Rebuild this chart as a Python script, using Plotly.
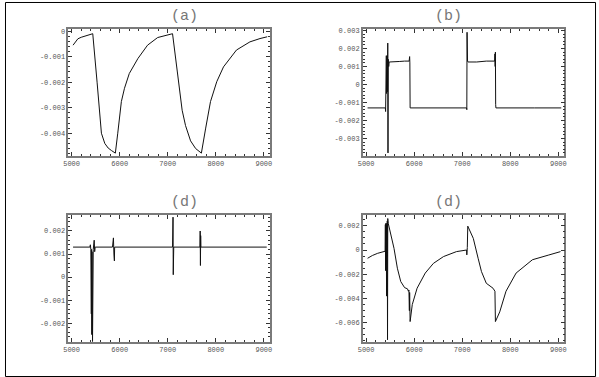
import plotly.graph_objects as go

# panel (a)
a_x = [5030, 5080, 5130, 5200, 5300, 5400, 5440, 5530, 5620, 5690, 5760, 5830, 5910,
       5960, 6035, 6100, 6200, 6380, 6580, 6790, 6990, 7100, 7200, 7300, 7370, 7475,
       7580, 7700, 7790, 7890, 8020, 8160, 8430, 8710, 8920, 9070]
a_y = [-0.00055, -0.00042, -0.0003, -0.00024, -0.00018, -0.00012, -0.0001, -0.002,
       -0.004, -0.0044, -0.00458, -0.00468, -0.00478, -0.004, -0.00276, -0.00224,
       -0.00166, -0.00107, -0.00055, -0.00025, -0.00016, -0.0001, -0.0016, -0.0031,
       -0.0037, -0.0043, -0.0046, -0.00478, -0.0038, -0.00276, -0.00198, -0.0014,
       -0.00074, -0.00042, -0.00029, -0.00022]

# panel (b)
b_x = [5030, 5400, 5405, 5410, 5415, 5420, 5425, 5430, 5435, 5440, 5445, 5450, 5455,
       5460, 5470, 5480, 5600, 5700, 5800, 5895, 5905, 5910, 5915, 5920, 6500, 7090,
       7095, 7100, 7105, 7110, 7120, 7300, 7500, 7675, 7680, 7685, 7690, 7695, 7700,
       8500, 9060]
b_y = [-0.0013, -0.0013, -0.0015, 0.0014, -0.0009, 0.0016, -0.0005, 0.0015, 0.0,
       0.0016, -0.0004, 0.0023, -0.0038, 0.0014, 0.0010, 0.00125, 0.00125, 0.00128,
       0.0013, 0.0013, 0.00155, 0.0012, -0.0013, -0.0013, -0.0013, -0.0013, -0.0014,
       0.0029, 0.0010, 0.0013, 0.00125, 0.00125, 0.0013, 0.0013, 0.0017, 0.0010,
       0.0018, -0.0011, -0.0013, -0.0013, -0.0013]

# panel (c), titled (d) in the original
c_x = [5030, 5380, 5390, 5400, 5410, 5415, 5420, 5425, 5435, 5440, 5450, 5470, 5480,
       5490, 5850, 5870, 5880, 5890, 5895, 7100, 7110, 7115, 7120, 7125, 7670, 7675,
       7680, 7685, 7690, 9060]
c_y = [0.0013, 0.0013, 0.0014, 0.0012, -0.0016, 0.0012, -0.0025, 0.0011, -0.0028,
       0.0010, 0.0012, 0.0016, 0.0011, 0.0013, 0.0013, 0.0017, 0.0010, 0.0007, 0.0013,
       0.0013, 0.0026, 0.0001, 0.0017, 0.0013, 0.0013, 0.0020, 0.0005, 0.0018, 0.0013,
       0.0013]

# panel (d)
d_x = [5030, 5130, 5240, 5375, 5395, 5400, 5405, 5410, 5415, 5420, 5425, 5430, 5435,
       5440, 5445, 5450, 5460, 5520, 5580, 5650, 5720, 5800, 5860, 5880, 5890, 5900,
       5905, 5915, 5925, 5960, 6060, 6230, 6400, 6610, 6880, 7090, 7095, 7105, 7115,
       7230, 7330, 7400, 7500, 7640, 7680, 7690, 7780, 7910, 8120, 8460, 8800, 9045]
d_y = [-0.00068, -0.00045, -0.00027, -0.0001, -0.0001, 0.0021, -0.0017, 0.0022,
       -0.0012, 0.0020, -0.0038, 0.0022, -0.0005, 0.0024, -0.0074, 0.0026, 0.0022,
       0.0012, 0.00014, -0.0015, -0.0026, -0.0031, -0.0032, -0.0034, -0.0033, -0.005,
       -0.0035, -0.0059, -0.0055, -0.0045, -0.00315, -0.0019, -0.0011, -0.00054,
       -0.00013, 0.0, -0.0004, 0.0002, 0.00197, 0.00096, -0.00068, -0.00178, -0.00274,
       -0.00315, -0.0034, -0.0059, -0.0051, -0.0034, -0.0019, -0.0008, -0.00041,
       -0.00013]

x_ticks = [5000, 6000, 7000, 8000, 9000]
a_ticks = [0, -0.001, -0.002, -0.003, -0.004]
b_ticks = [0.003, 0.002, 0.001, 0, -0.001, -0.002, -0.003]
c_ticks = [0.002, 0.001, 0, -0.001, -0.002]
d_ticks = [0.002, 0, -0.002, -0.004, -0.006]
titles = ["(a)", "(b)", "(d)", "(d)"]

W, H = 599, 377
FRAME = "#7a7a7a"
MONO = "Liberation Mono"


def lab(v):
    if v == 0:
        return "0"
    return f"{v:.3f}"


panels = [
    (a_x, a_y, a_ticks, [-0.0049, 0.00009], 0.0002, (64, 268), (27, 155)),
    (b_x, b_y, b_ticks, [-0.00398, 0.00309], 0.0002, (362, 566), (27, 155)),
    (c_x, c_y, c_ticks, [-0.00283, 0.0027], 0.0002, (64, 268), (214, 342)),
    (d_x, d_y, d_ticks, [-0.0076, 0.0029], 0.0005, (362, 566), (214, 342)),
]

fig = go.Figure()
layout = {}
for i, (xs, ys, yt, yr, ymin, (x0, x1), (y0, y1)) in enumerate(panels):
    n = "" if i == 0 else str(i + 1)
    fig.add_trace(go.Scatter(x=xs, y=ys, mode="lines", xaxis="x" + n, yaxis="y" + n,
                             line=dict(color="#111111", width=1), showlegend=False))
    common = dict(showgrid=False, zeroline=False, showline=True, linecolor=FRAME,
                  linewidth=1.5, mirror="ticks", ticks="inside", ticklen=4,
                  tickcolor="#333333", tickwidth=1,
                  tickfont=dict(family=MONO, size=7, color="#555555"))
    layout["xaxis" + n] = dict(common, domain=[x0 / W, x1 / W], range=[4930, 9125],
                               anchor="y" + n, tickvals=x_ticks,
                               ticktext=[str(v) for v in x_ticks],
                               minor=dict(ticks="inside", ticklen=2, dtick=200,
                                          tickcolor="#333333"))
    layout["yaxis" + n] = dict(common, domain=[1 - y1 / H, 1 - y0 / H], range=yr,
                               anchor="x" + n, tickvals=yt,
                               ticktext=[lab(v) for v in yt],
                               minor=dict(ticks="inside", ticklen=2, dtick=ymin,
                                          tickcolor="#333333"))
    fig.add_annotation(text=titles[i], x=(x0 + x1) / 2 / W, y=1 - (y0 - 12) / H,
                       xref="paper", yref="paper", showarrow=False,
                       yanchor="middle",
                       font=dict(family=MONO, size=15, color="#777777"))

fig.update_layout(
    width=W, height=H,
    margin=dict(l=0, r=0, t=0, b=0),
    paper_bgcolor="white", plot_bgcolor="white",
    shapes=[dict(type="rect", xref="paper", yref="paper",
                 x0=0.5 / W, x1=597.5 / W, y0=0.5 / H, y1=1 - 0.5 / H,
                 line=dict(color="black", width=1))],
    **layout
)

# page body has a default 8px margin; drop it so the figure sits at 0,0
fig.write_html("out.html", config={"displayModeBar": False},
               post_script="document.body.style.margin='0';")
